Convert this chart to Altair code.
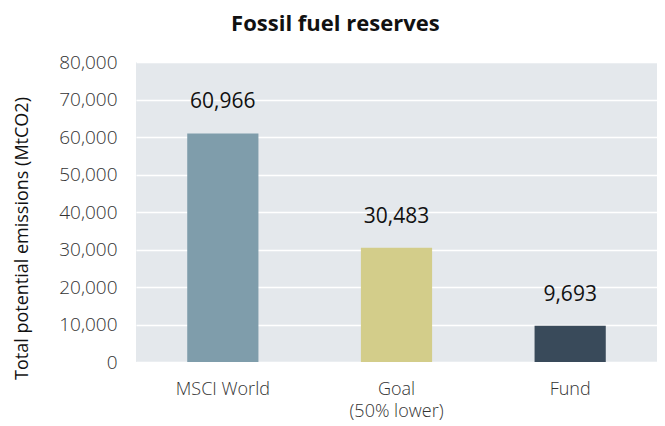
import altair as alt
import pandas as pd

categories = ["MSCI World", "Goal", "Fund"]
values = [60966, 30483, 9693]
colors = ["#7f9dab", "#d3cd8a", "#394a5a"]
y_ticks = [0, 10000, 20000, 30000, 40000, 50000, 60000, 70000, 80000]

df = pd.DataFrame({"cat": categories, "val": values, "color": colors})

FONT = "Open Sans"

y_enc = alt.Y(
    "val:Q",
    scale=alt.Scale(domain=[0, 80000], nice=False),
    axis=alt.Axis(
        title="Total potential emissions (MtCO2)",
        titleFont=FONT,
        titleFontSize=18,
        titleFontWeight=500,
        titleColor="#111111",
        titleY=176,
        titlePadding=27,
        values=y_ticks,
        tickCount=12,
        format=",d",
        labelOverlap=False,
        labelFont=FONT,
        labelFontSize=19,
        labelFontWeight=300,
        labelColor="#333333",
        labelPadding=19,
        ticks=False,
        domain=False,
        gridColor="#ffffff",
        gridWidth=1.5,
    ),
)

base = alt.Chart(df).encode(
    x=alt.X(
        "cat:N",
        sort=categories,
        scale=alt.Scale(paddingInner=0.59, paddingOuter=0.295),
        axis=alt.Axis(
            title=None,
            labelAngle=0,
            labelFont=FONT,
            labelFontSize=18,
            labelFontWeight=300,
            labelColor="#333333",
            labelPadding=18,
            labelLineHeight=22,
            labelExpr="datum.value == 'Goal' ? ['Goal', '(50% lower)'] : datum.value",
            ticks=False,
            domain=False,
        ),
    ),
    y=y_enc,
)

bars = base.mark_bar().encode(
    color=alt.Color("color:N", scale=None),
)

labels = base.mark_text(
    font=FONT, fontSize=21, color="#111111", baseline="middle", dy=-31
).encode(
    text=alt.Text("val:Q", format=","),
)

chart = (
    (bars + labels)
    .properties(
        width=521,
        height=300,
        title=alt.TitleParams(
            "Fossil fuel reserves",
            font=FONT,
            fontSize=22,
            fontWeight="bold",
            color="#111111",
            anchor="middle",
            frame="bounds",
            offset=17,
        ),
        padding={"left": 5, "top": 5, "right": 0, "bottom": 0},
    )
    .configure_view(fill="#e4e8ec", stroke=None)
)

chart.save("out.html", embed_options={"renderer": "svg", "actions": False})
